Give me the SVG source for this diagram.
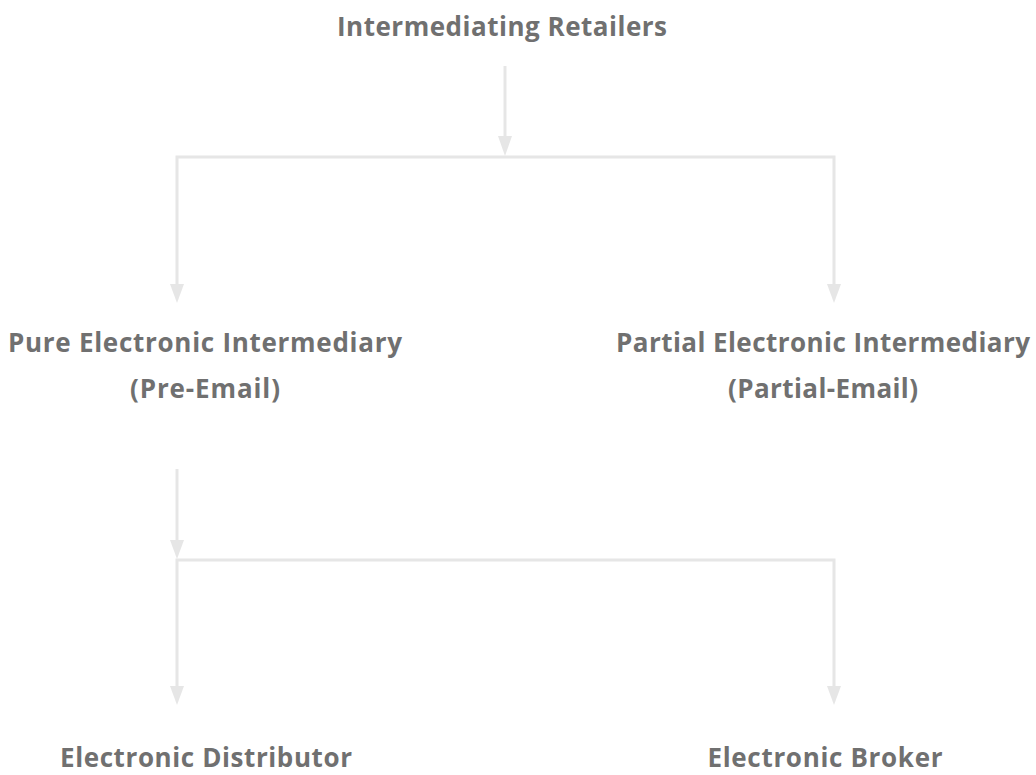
<svg xmlns="http://www.w3.org/2000/svg" width="1036" height="775" viewBox="0 0 1036 775">
<style>
.t{font-family:"Open Sans","Liberation Sans",sans-serif;font-weight:700;font-size:26px;fill:#707070;text-anchor:middle}
.c{stroke:#e6e6e6;stroke-width:3;fill:none}
.a{fill:#e6e6e6}
</style>
<rect width="1036" height="775" fill="#ffffff"/>
<g id="connectors">
<line class="c" x1="505" y1="66" x2="505" y2="140"/>
<path class="a" d="M498,136 L512,136 L505,156 Z"/>
<polyline class="c" points="177,290 177,157 834,157 834,290"/>
<path class="a" d="M170,284 L184,284 L177,303 Z"/>
<path class="a" d="M827,284 L841,284 L834,303 Z"/>
<line class="c" x1="177" y1="469" x2="177" y2="545"/>
<path class="a" d="M170,540 L184,540 L177,559 Z"/>
<polyline class="c" points="177,690 177,560 834,560 834,690"/>
<path class="a" d="M170,686 L184,686 L177,705 Z"/>
<path class="a" d="M827,686 L841,686 L834,705 Z"/>
</g>
<g id="node-retailers"><text class="t" x="502" y="36" textLength="330" lengthAdjust="spacing">Intermediating Retailers</text></g>
<g id="node-pure"><text class="t" x="205" y="352" textLength="394" lengthAdjust="spacing">Pure Electronic Intermediary</text><text class="t" x="205" y="398" textLength="150" lengthAdjust="spacing">(Pre-Email)</text></g>
<g id="node-partial"><text class="t" x="823" y="352" textLength="414" lengthAdjust="spacing">Partial Electronic Intermediary</text><text class="t" x="823" y="398" textLength="190" lengthAdjust="spacing">(Partial-Email)</text></g>
<g id="node-distributor"><text class="t" x="206" y="767" textLength="292" lengthAdjust="spacing">Electronic Distributor</text></g>
<g id="node-broker"><text class="t" x="825" y="767" textLength="235" lengthAdjust="spacing">Electronic Broker</text></g>
</svg>
